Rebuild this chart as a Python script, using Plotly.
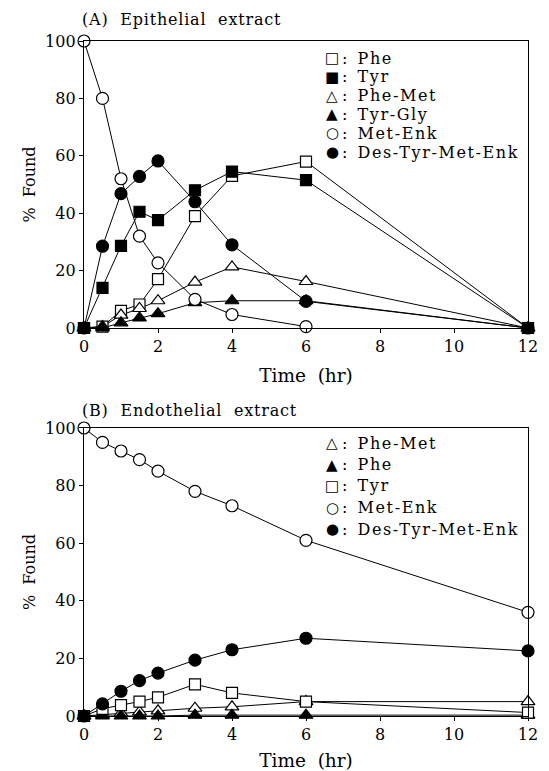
import plotly.graph_objects as go

time_hr = [0, 0.5, 1, 1.5, 2, 3, 4, 6, 12]
x_ticks = [0, 2, 4, 6, 8, 10, 12]
y_ticks = [0, 20, 40, 60, 80, 100]

# Panel A: Epithelial extract
a_phe = [0, 0.5, 6, 8.2, 17, 39, 53, 58, 0]
a_tyr = [0, 14, 28.6, 40.5, 37.6, 48, 54.5, 51.5, 0]
a_phemet = [0, 0.5, 4.5, 6.8, 9.5, 16, 21.3, 16.2, 0]
a_tyrgly = [0, 0, 1.8, 3.5, 5, 8.8, 9.5, 9.5, 0]
a_metenk_t = [0, 0.5, 1, 1.5, 2, 3, 4, 6]
a_metenk = [100, 80, 52, 32, 22.7, 10, 4.7, 0.5]
a_destyr = [0, 28.5, 46.8, 52.8, 58.2, 44, 29, 9.3, 0]

# Panel B: Endothelial extract
b_phemet = [0, 0.5, 1, 1.4, 1.8, 2.7, 3.2, 5, 5]
b_phe = [0, 0, 0, 0, 0, 0.3, 0.3, 0.3, 0.3]
b_tyr = [0, 2.5, 3.8, 5, 6.5, 11, 8, 5, 1.2]
b_metenk = [100, 95, 92, 89, 85, 78, 73, 61, 36]
b_destyr = [0, 4.2, 8.6, 12.3, 14.9, 19.4, 23, 27, 22.6]

FONT = "DejaVu Serif"

# (name, x, y, plotly symbol, fill, legend glyph)
series_a = [
    ("Phe", time_hr, a_phe, "square", "white", "\u25a1"),
    ("Tyr", time_hr, a_tyr, "square", "black", "\u25a0"),
    ("Phe-Met", time_hr, a_phemet, "triangle-up", "white", "\u25b3"),
    ("Tyr-Gly", time_hr, a_tyrgly, "triangle-up", "black", "\u25b2"),
    ("Met-Enk", a_metenk_t, a_metenk, "circle", "white", "\u25cb"),
    ("Des-Tyr-Met-Enk", time_hr, a_destyr, "circle", "black", "\u25cf"),
]
series_b = [
    ("Phe-Met", time_hr, b_phemet, "triangle-up", "white", "\u25b3"),
    ("Phe", time_hr, b_phe, "triangle-up", "black", "\u25b2"),
    ("Tyr", time_hr, b_tyr, "square", "white", "\u25a1"),
    ("Met-Enk", time_hr, b_metenk, "circle", "white", "\u25cb"),
    ("Des-Tyr-Met-Enk", time_hr, b_destyr, "circle", "black", "\u25cf"),
]

MSIZE = {"square": 11, "triangle-up": 12, "circle": 12}

fig = go.Figure()
annotations = []

def spaced(txt, px):
    return '<span style="letter-spacing:%spx">%s</span>' % (px, txt)

def add_panel(series, xa, ya, leg_top, leg_step):
    for name, xs, ys, sym, fill, glyph in series:
        fig.add_trace(go.Scatter(
            x=xs, y=ys, mode="lines", xaxis=xa, yaxis=ya,
            line=dict(color="black", width=1), showlegend=False,
            hoverinfo="skip", cliponaxis=False))
    for i, (name, xs, ys, sym, fill, glyph) in enumerate(series):
        fig.add_trace(go.Scatter(
            x=xs, y=ys, mode="markers", xaxis=xa, yaxis=ya, name=name,
            marker=dict(symbol=sym, size=MSIZE[sym],
                        color=fill, line=dict(color="black", width=1.2)),
            showlegend=False, cliponaxis=False))
        yy = leg_top - i * leg_step
        annotations.append(dict(
            text=glyph, xref="paper", yref="paper", x=0.5586, y=yy,
            xanchor="center", yanchor="middle", showarrow=False,
            font=dict(family="DejaVu Sans", size=15, color="black")))
        annotations.append(dict(
            text=":\u00a0\u00a0" + spaced(name, 1.6), xref="paper", yref="paper",
            x=0.576, y=yy, xanchor="left", yanchor="middle", showarrow=False,
            font=dict(family=FONT, size=16, color="black")))

# legend row spacing in paper units (plot area height 675 px)
add_panel(series_a, "x", "y", (716 - 58) / 675, 18.8 / 675)
add_panel(series_b, "x2", "y2", (716 - 443) / 675, 21.5 / 675)

axis_common = dict(
    showline=True, linecolor="black", linewidth=1.3, mirror=True,
    showgrid=False, zeroline=False, ticks="outside", ticklen=4,
    tickcolor="black", tickwidth=1.2, automargin=False,
    tickfont=dict(family=FONT, size=16, color="black"),
)
over_common = dict(
    showline=False, showgrid=False, zeroline=False, ticks="inside", ticklen=4,
    tickcolor="black", tickwidth=1.2, showticklabels=False, automargin=False,
)

top_dom = [0.5748, 1.0]
bot_dom = [0.0, 0.4267]

annotations += [
    dict(text=spaced("(A)\u00a0\u00a0Epithelial\u00a0\u00a0extract", 0.8),
         xref="paper", yref="paper",
         x=-0.009, y=(716 - 19) / 675, xanchor="left", yanchor="middle", showarrow=False,
         font=dict(family=FONT, size=16, color="black")),
    dict(text=spaced("(B)\u00a0\u00a0Endothelial\u00a0\u00a0extract", 0.8),
         xref="paper", yref="paper",
         x=-0.009, y=(716 - 410) / 675, xanchor="left", yanchor="middle", showarrow=False,
         font=dict(family=FONT, size=16, color="black")),
]

xtitle = dict(text="Time\u00a0\u00a0(hr)", font=dict(family=FONT, size=18.5), standoff=13)
ytitle = dict(text="%\u00a0\u00a0Found", font=dict(family=FONT, size=16), standoff=5)

fig.update_layout(
    width=541, height=763,
    margin=dict(l=76, r=21, t=33, b=55),
    paper_bgcolor="white", plot_bgcolor="white",
    font=dict(family=FONT, color="black"),
    showlegend=False,
    xaxis=dict(domain=[0, 1], anchor="y", range=[0, 12], tickvals=x_ticks,
               title=xtitle, **axis_common),
    yaxis=dict(domain=top_dom, anchor="x", range=[0, 100], tickvals=y_ticks,
               title=ytitle, **axis_common),
    xaxis2=dict(domain=[0, 1], anchor="y2", range=[0, 12], tickvals=x_ticks,
                title=xtitle, **axis_common),
    yaxis2=dict(domain=bot_dom, anchor="x2", range=[0, 100], tickvals=y_ticks,
                title=ytitle, **axis_common),
    xaxis3=dict(overlaying="x", anchor="y", range=[0, 12], tickvals=x_ticks, **over_common),
    yaxis3=dict(overlaying="y", anchor="x", range=[0, 100], tickvals=y_ticks, **over_common),
    xaxis4=dict(overlaying="x2", anchor="y2", range=[0, 12], tickvals=x_ticks, **over_common),
    yaxis4=dict(overlaying="y2", anchor="x2", range=[0, 100], tickvals=y_ticks, **over_common),
    annotations=annotations,
)

fig.write_html("out.html")
